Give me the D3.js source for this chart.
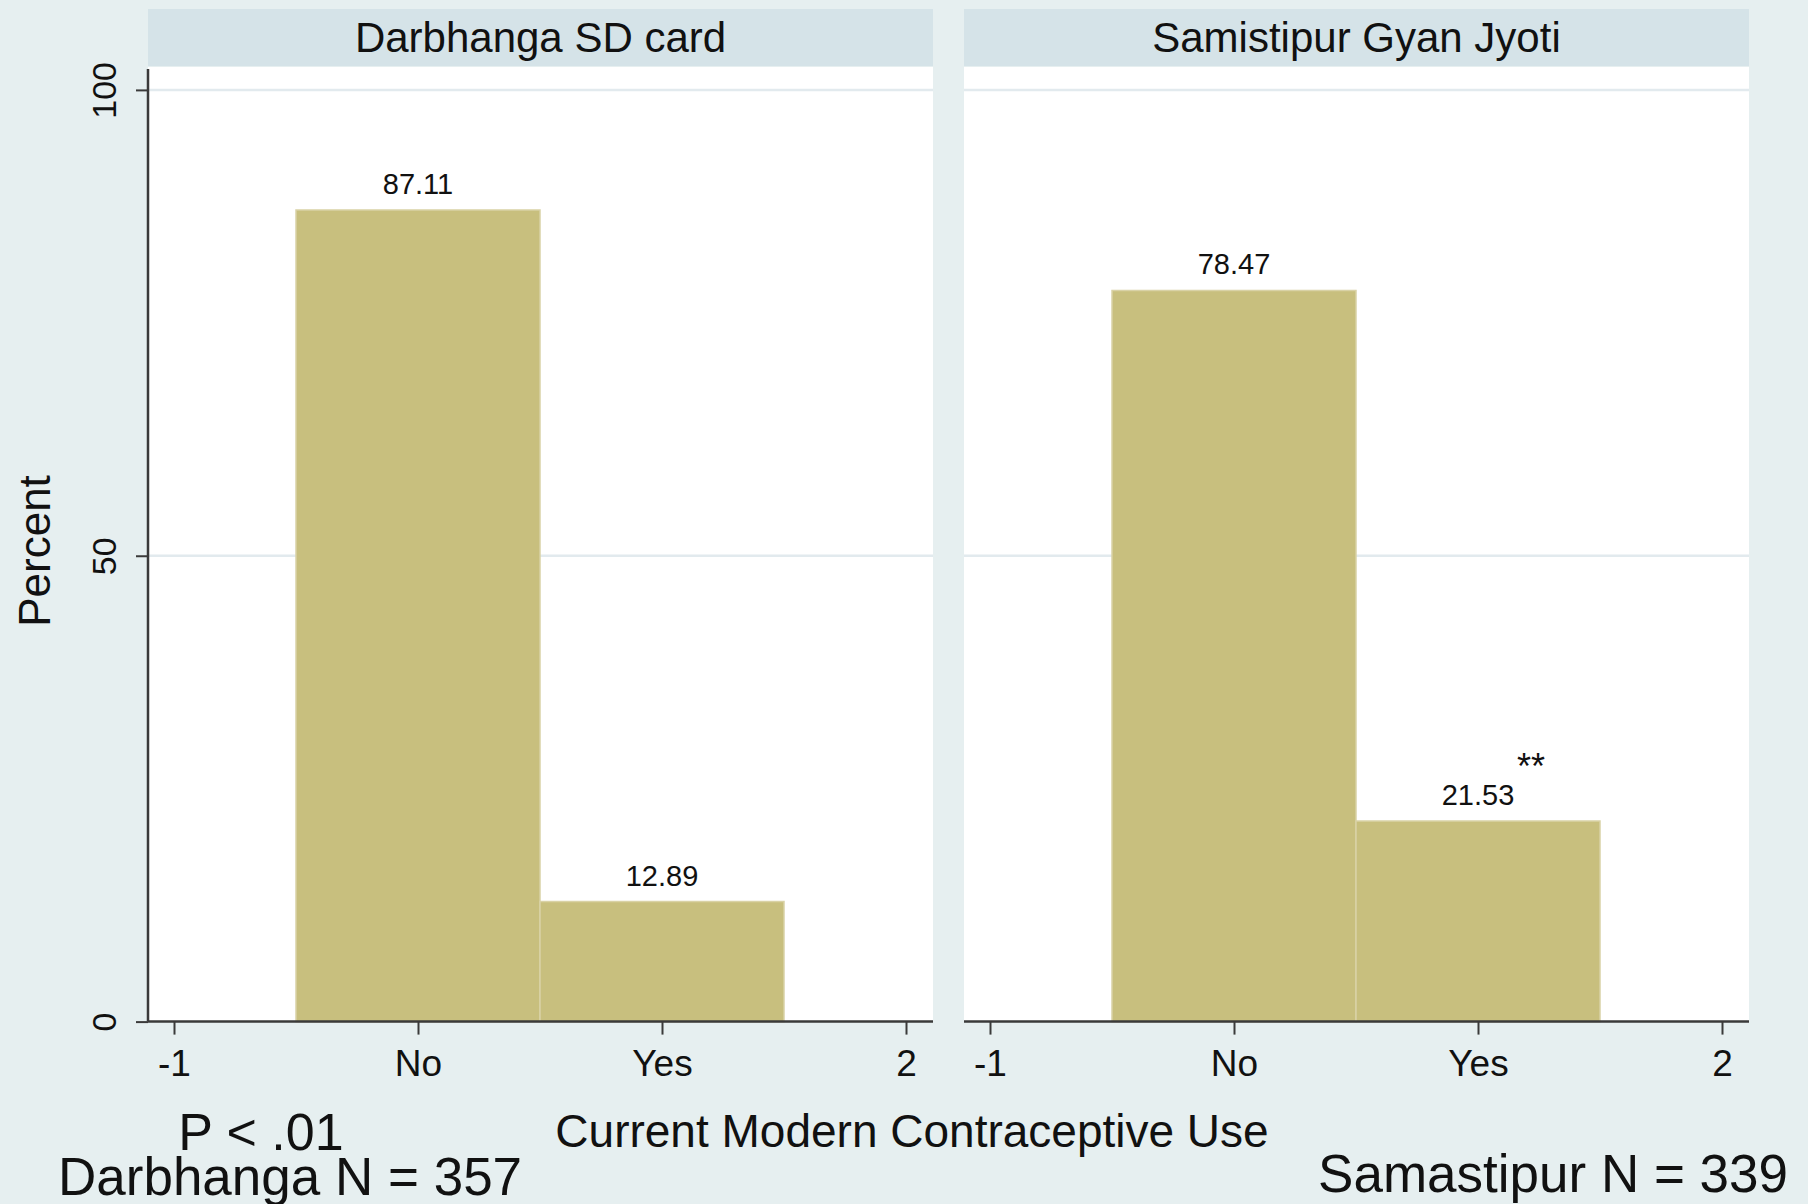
<!DOCTYPE html>
<html>
<head>
<meta charset="utf-8">
<script src="https://cdn.jsdelivr.net/npm/d3@7"></script>
<style>
  html, body { margin: 0; padding: 0; background: #e6eff0; }
  svg text { font-family: "Liberation Sans", Arial, Helvetica, sans-serif; fill: #111; }
</style>
</head>
<body>
<div id="chart"></div>
<script>
// Chart data
const panelTitles = ["Darbhanga SD card", "Samistipur Gyan Jyoti"];
const categories = ["No", "Yes"];
const categoryCodes = [0, 1];
const darbhangaPercent = [87.11, 12.89];
const samastipurPercent = [78.47, 21.53];
const xTickValues = [-1, 0, 1, 2];
const xTickLabels = ["-1", "No", "Yes", "2"];
const yTickValues = [0, 50, 100];

const panelValues = [darbhangaPercent, samastipurPercent];

// Layout
const W = 1808, H = 1204;
const panelLeft = [148, 964];
const panelWidth = 785;
const headerTop = 9, headerBottom = 66;
const axisY = 1021.6;

const svg = d3.select("#chart")
    .append("svg")
    .attr("width", W)
    .attr("height", H);

svg.append("rect")
    .attr("width", W)
    .attr("height", H)
    .attr("fill", "#e6eff0");

const x = d3.scaleLinear().domain([-1, 2]).range([26, 758]);
const y = d3.scaleLinear().domain([0, 100]).range([axisY, 89.9]);

panelTitles.forEach((title, i) => {
    const g = svg.append("g").attr("transform", `translate(${panelLeft[i]},0)`);
    const values = panelValues[i];

    // Header strip
    g.append("rect")
        .attr("x", 0).attr("y", headerTop)
        .attr("width", panelWidth).attr("height", headerBottom - headerTop)
        .attr("fill", "#d5e3e8");
    g.append("text")
        .attr("x", panelWidth / 2).attr("y", 52)
        .attr("text-anchor", "middle")
        .style("font-size", "42px")
        .text(title);

    // Plot region
    g.append("rect")
        .attr("x", 0).attr("y", headerBottom + 1)
        .attr("width", panelWidth).attr("height", axisY - headerBottom - 1)
        .attr("fill", "#ffffff");

    // Gridlines
    g.selectAll(".grid")
        .data(yTickValues.filter(d => d > 0))
        .enter().append("line")
        .attr("x1", 0).attr("x2", panelWidth)
        .attr("y1", d => y(d)).attr("y2", d => y(d))
        .attr("stroke", "#e2eaee")
        .attr("stroke-width", 2.5);

    // Bars
    g.selectAll(".bar")
        .data(categoryCodes)
        .enter().append("rect")
        .attr("x", d => x(d - 0.5))
        .attr("y", (d, j) => y(values[j]))
        .attr("width", x(1) - x(0))
        .attr("height", (d, j) => y(0) - y(values[j]))
        .attr("fill", "#c8bf7e")
        .attr("stroke", "#d9d2a6")
        .attr("stroke-width", 1.5);

    // Bar labels
    g.selectAll(".blabel")
        .data(categoryCodes)
        .enter().append("text")
        .attr("x", d => x(d))
        .attr("y", (d, j) => y(values[j]) - 16)
        .attr("text-anchor", "middle")
        .style("font-size", "29px")
        .text((d, j) => values[j].toFixed(2));

    // X axis
    const xAxis = g.append("g")
        .attr("transform", `translate(0,${axisY})`)
        .call(d3.axisBottom(x)
            .tickValues(xTickValues)
            .tickFormat((d, j) => xTickLabels[j])
            .tickSize(13)
            .tickSizeOuter(0)
            .tickPadding(15));
    xAxis.select(".domain")
        .attr("d", `M0,0H${panelWidth}`)
        .attr("stroke", "#3a3a3a")
        .attr("stroke-width", 2.5);
    xAxis.selectAll(".tick line").attr("stroke", "#3a3a3a").attr("stroke-width", 2);
    xAxis.selectAll(".tick text")
        .style("font-size", "37px")
        .attr("fill", "#111")
        .attr("font-family", null);

    // Y axis only on first panel
    if (i === 0) {
        const yAxis = g.append("g")
            .call(d3.axisLeft(y)
                .tickValues(yTickValues)
                .tickSize(12)
                .tickSizeOuter(0)
                .tickFormat(d3.format("d")));
        yAxis.select(".domain")
            .attr("d", `M0,${headerBottom + 3}V${axisY}`)
            .attr("stroke", "#3a3a3a")
            .attr("stroke-width", 2.5);
        yAxis.selectAll(".tick line").attr("stroke", "#3a3a3a").attr("stroke-width", 2);
        yAxis.selectAll(".tick text")
            .attr("x", null).attr("dy", null)
            .attr("transform", "translate(-32,0) rotate(-90)")
            .attr("text-anchor", "middle")
            .attr("fill", "#111")
            .style("font-size", "34px");
    }
});

// Significance marker
svg.append("text")
    .attr("x", panelLeft[1] + x(1) + 53)
    .attr("y", y(samastipurPercent[1]) - 42)
    .attr("text-anchor", "middle")
    .style("font-size", "36px")
    .text("**");

// Axis titles
svg.append("text")
    .attr("transform", "translate(50,551) rotate(-90)")
    .attr("text-anchor", "middle")
    .style("font-size", "44px")
    .text("Percent");

svg.append("text")
    .attr("x", 912).attr("y", 1147)
    .attr("text-anchor", "middle")
    .style("font-size", "46px")
    .text("Current Modern Contraceptive Use");

// Annotations
svg.append("text")
    .attr("x", 261).attr("y", 1150)
    .attr("text-anchor", "middle")
    .style("font-size", "52px")
    .text("P < .01");

svg.append("text")
    .attr("x", 58).attr("y", 1195)
    .style("font-size", "53px")
    .text("Darbhanga N = 357");

svg.append("text")
    .attr("x", 1788).attr("y", 1192)
    .attr("text-anchor", "end")
    .style("font-size", "53px")
    .text("Samastipur N = 339");
</script>
</body>
</html>
